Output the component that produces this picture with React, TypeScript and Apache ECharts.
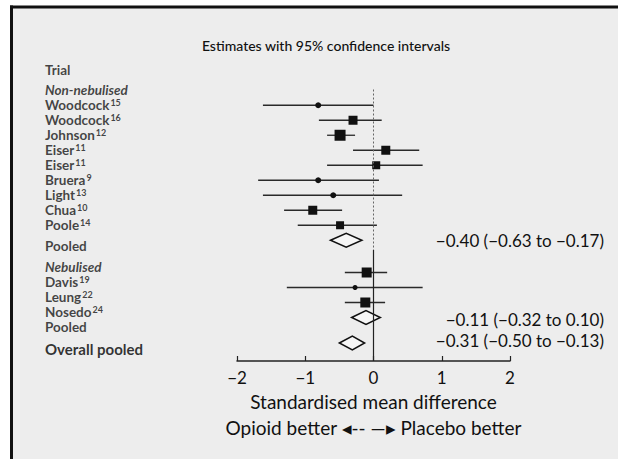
import React, { useEffect, useRef } from "react";
import * as echarts from "echarts";

const titleText = "Estimates with 95% confidence intervals";
const headerLabel = "Trial";
const sectionNames = ["Non-nebulised", "Nebulised"];

const nonNebTrials = ["Woodcock", "Woodcock", "Johnson", "Eiser", "Eiser", "Bruera", "Light", "Chua", "Poole"];
const nonNebRefs = ["15", "16", "12", "11", "11", "9", "13", "10", "14"];
const nonNebEst = [-0.81, -0.3, -0.49, 0.18, 0.04, -0.81, -0.59, -0.89, -0.49];
const nonNebLow = [-1.62, -0.8, -0.68, -0.3, -0.68, -1.69, -1.62, -1.31, -1.11];
const nonNebHigh = [0.0, 0.12, -0.27, 0.67, 0.72, 0.08, 0.42, -0.46, 0.05];
const nonNebWeight = [6, 9, 11, 9, 8, 6, 6, 9, 8];

const nebTrials = ["Davis", "Leung", "Nosedo"];
const nebRefs = ["19", "22", "24"];
const nebEst = [-0.1, -0.27, -0.12];
const nebLow = [-0.42, -1.27, -0.42];
const nebHigh = [0.2, 0.72, 0.17];
const nebWeight = [10, 5, 10];

const pooledLabels = ["Pooled", "Pooled", "Overall pooled"];
const pooledEst = [-0.4, -0.11, -0.31];
const pooledLow = [-0.63, -0.32, -0.5];
const pooledHigh = [-0.17, 0.1, -0.13];

const xMin = -2;
const xMax = 2;
const xInterval = 1;
const xAxisTitle = "Standardised mean difference";
const directionText = "Opioid better ◂-- —▸ Placebo better";

const FONT = "Lato";

type Row = {
  kind: "header" | "section" | "study" | "pooled" | "overall";
  label: string;
  ref?: string;
  est?: number;
  lo?: number;
  hi?: number;
  w?: number;
};

function buildRows(): Row[] {
  const rows: Row[] = [];
  rows.push({ kind: "header", label: headerLabel });
  rows.push({ kind: "section", label: sectionNames[0] });
  nonNebTrials.forEach((t, i) =>
    rows.push({ kind: "study", label: t, ref: nonNebRefs[i], est: nonNebEst[i], lo: nonNebLow[i], hi: nonNebHigh[i], w: nonNebWeight[i] })
  );
  rows.push({ kind: "pooled", label: pooledLabels[0], est: pooledEst[0], lo: pooledLow[0], hi: pooledHigh[0] });
  rows.push({ kind: "section", label: sectionNames[1] });
  nebTrials.forEach((t, i) =>
    rows.push({ kind: "study", label: t, ref: nebRefs[i], est: nebEst[i], lo: nebLow[i], hi: nebHigh[i], w: nebWeight[i] })
  );
  rows.push({ kind: "pooled", label: pooledLabels[1], est: pooledEst[1], lo: pooledLow[1], hi: pooledHigh[1] });
  rows.push({ kind: "overall", label: pooledLabels[2], est: pooledEst[2], lo: pooledLow[2], hi: pooledHigh[2] });
  return rows;
}

// vertical layout of the label column and the plot column (row index -> axis position)
function labelPos(i: number) {
  let p = i - 0.1;
  if (i === 0) p = -0.4;
  if (i >= 11) p += 0.45;
  if (i >= 12) p += 0.35;
  if (i >= 17) p += 0.5;
  return p;
}
function markPos(i: number) {
  let p = i - 0.05;
  if (i >= 12) p += 0.15;
  if (i >= 17) p += 0.7;
  return p;
}
// small vertical nudge of the summary text relative to its diamond (px)
function textNudge(i: number) {
  if (i === 16) return 1.5;
  if (i === 17) return -2.5;
  return 0;
}

const fmt = (v: number) => (v < 0 ? "\u2212" : "") + Math.abs(v).toFixed(2);

export default function App() {
  const ref = useRef<HTMLDivElement>(null);
  useEffect(() => {
    const chart = echarts.init(ref.current!, null, { renderer: "svg" });
    const rows = buildRows();

    const labelData = rows.map((r, i) => {
      let key = "n";
      if (r.kind === "section") key = "it";
      if (r.kind === "overall") key = "b";
      const formatter = r.ref ? `{n|${r.label}}{s|${r.ref}}` : `{${key}|${r.label}}`;
      return { value: [0, labelPos(i)], label: { formatter } };
    });

    const studyData: number[][] = [];
    const pooledData: number[][] = [];
    rows.forEach((r, i) => {
      if (r.kind === "study") studyData.push([r.lo!, r.hi!, r.est!, markPos(i), r.w!]);
      if (r.kind === "pooled" || r.kind === "overall") pooledData.push([r.lo!, r.hi!, r.est!, markPos(i), textNudge(i)]);
    });

    const yCommon = { type: "value", inverse: true, min: -2, max: 19, show: false };

    const option: any = {
      animation: false,
      backgroundColor: "#ffffff",
      textStyle: { fontFamily: FONT },
      title: {
        text: titleText,
        left: 326,
        top: 38,
        padding: 0,
        textAlign: "center",
        textStyle: { fontFamily: FONT, fontSize: 14, fontWeight: 500, color: "#111" },
      },
      graphic: [
        { type: "rect", z: -10, silent: true, shape: { x: 11, y: 7, width: 607, height: 452 }, style: { fill: "#ededed" } },
        { type: "line", z: 10, silent: true, shape: { x1: 11.5, y1: 5.5, x2: 11.5, y2: 459 }, style: { stroke: "#111", lineWidth: 3 } },
        { type: "line", z: 10, silent: true, shape: { x1: 10, y1: 7, x2: 618, y2: 7 }, style: { stroke: "#111", lineWidth: 3 } },
      ],
      grid: [
        { left: 237, top: 46, width: 273, height: 315 },
        { left: 45, top: 46, width: 150, height: 315 },
      ],
      xAxis: [
        {
          type: "value",
          gridIndex: 0,
          min: xMin,
          max: xMax,
          interval: xInterval,
          splitLine: { show: false },
          axisLine: { show: true, onZero: false, lineStyle: { color: "#222", width: 1.5 } },
          axisTick: { show: true, inside: true, length: 5, lineStyle: { color: "#222", width: 1.2 } },
          axisLabel: {
            margin: 8,
            fontSize: 17,
            fontFamily: FONT,
            color: "#111",
            formatter: (v: number) => (v < 0 ? "\u2212" : "") + Math.abs(v),
          },
          name: `{a|${xAxisTitle}}\n{b|${directionText}}`,
          nameLocation: "middle",
          nameGap: 27,
          nameTextStyle: {
            rich: {
              a: { fontSize: 19, fontFamily: FONT, color: "#111", lineHeight: 26 },
              b: { fontSize: 19, fontFamily: FONT, color: "#111", lineHeight: 26 },
            },
          },
        },
        { type: "value", gridIndex: 1, min: 0, max: 1, show: false },
      ],
      yAxis: [
        { ...yCommon, gridIndex: 0 },
        { ...yCommon, gridIndex: 1 },
      ],
      series: [
        {
          type: "scatter",
          xAxisIndex: 1,
          yAxisIndex: 1,
          silent: true,
          symbolSize: 0,
          itemStyle: { color: "rgba(0,0,0,0)" },
          label: {
            show: true,
            position: "right",
            distance: 0,
            align: "left",
            verticalAlign: "middle",
            rich: {
              n: { fontSize: 13.5, fontFamily: FONT, fontWeight: "bold", color: "#151515", lineHeight: 14 },
              it: { fontSize: 13.5, fontFamily: FONT, fontWeight: "bold", fontStyle: "italic", color: "#151515", lineHeight: 14 },
              b: { fontSize: 15, fontFamily: FONT, fontWeight: "bold", color: "#000", lineHeight: 14 },
              s: { fontSize: 9, fontFamily: FONT, fontWeight: "bold", color: "#151515", verticalAlign: "top", lineHeight: 9, padding: [0, 0, 0, 1] },
            },
          },
          data: labelData,
        },
        {
          type: "custom",
          xAxisIndex: 0,
          yAxisIndex: 0,
          silent: true,
          encode: { x: [0, 1, 2], y: 3 },
          data: studyData,
          renderItem: (_p: any, api: any) => {
            const lo = api.value(0), hi = api.value(1), est = api.value(2), y = api.value(3), w = api.value(4);
            const a = api.coord([lo, y]);
            const b = api.coord([hi, y]);
            const c = api.coord([est, y]);
            const children: any[] = [
              { type: "line", shape: { x1: a[0], y1: a[1], x2: b[0], y2: b[1] }, style: { stroke: "#2a2a2a", lineWidth: 1.3 } },
            ];
            if (w >= 8) {
              children.push({ type: "rect", shape: { x: c[0] - w / 2, y: c[1] - w / 2, width: w, height: w }, style: { fill: "#111" } });
            } else {
              children.push({ type: "circle", shape: { cx: c[0], cy: c[1], r: w / 2 }, style: { fill: "#111" } });
            }
            return { type: "group", children };
          },
          markLine: {
            silent: true,
            symbol: "none",
            label: { show: false },
            data: [
              [
                { coord: [0, 0.9], lineStyle: { color: "#666", width: 1, type: [2, 2] } },
                { coord: [0, 11.6] },
              ],
              [
                { coord: [0, 11.6], lineStyle: { color: "#222", width: 1.2, type: "solid" } },
                { coord: [0, 19] },
              ],
            ],
          },
        },
        {
          type: "custom",
          xAxisIndex: 0,
          yAxisIndex: 0,
          silent: true,
          encode: { x: [0, 1, 2], y: 3 },
          data: pooledData,
          renderItem: (_p: any, api: any) => {
            const lo = api.value(0), hi = api.value(1), est = api.value(2), y = api.value(3), nudge = api.value(4);
            const a = api.coord([lo, y]);
            const b = api.coord([hi, y]);
            const c = api.coord([est, y]);
            const right = api.coord([xMax, y])[0] + 94;
            const h = 7;
            return {
              type: "group",
              children: [
                {
                  type: "polygon",
                  shape: { points: [[a[0], c[1]], [c[0], c[1] - h], [b[0], c[1]], [c[0], c[1] + h]] },
                  style: { fill: "#f6f6f6", stroke: "#111", lineWidth: 1.5 },
                },
                {
                  type: "text",
                  x: right,
                  y: c[1] + nudge,
                  style: {
                    text: `${fmt(est)} (${fmt(lo)} to ${fmt(hi)})`,
                    align: "right",
                    verticalAlign: "middle",
                    fontSize: 17,
                    fontFamily: FONT,
                    fill: "#111",
                  },
                },
              ],
            };
          },
        },
      ],
    };
    chart.setOption(option);
    return () => chart.dispose();
  }, []);
  return <div ref={ref} style={{ position: "fixed", left: 0, top: 0, width: 618, height: 459 }} />;
}
